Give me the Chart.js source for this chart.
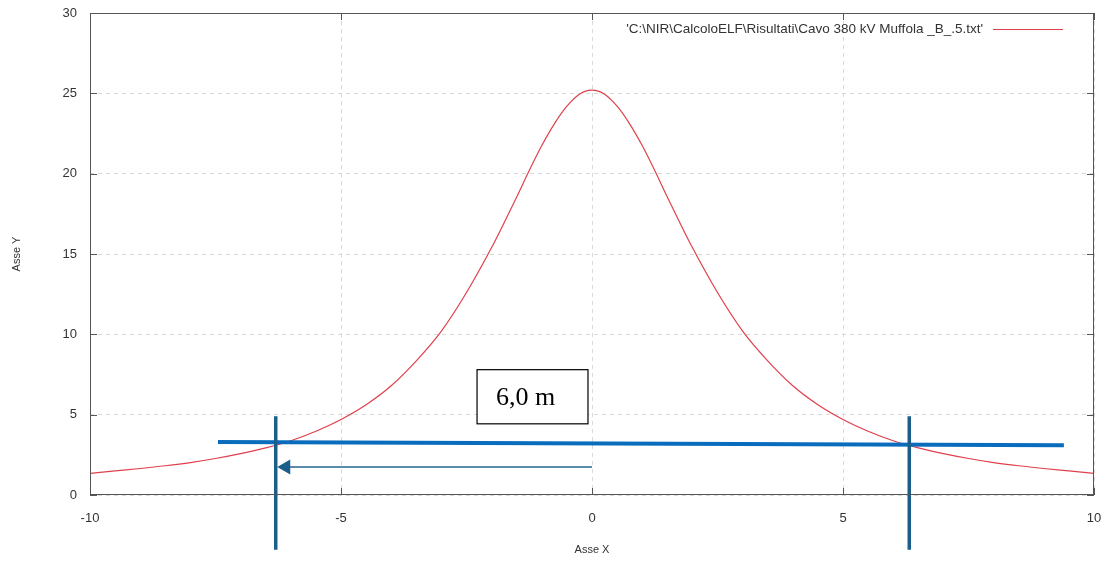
<!DOCTYPE html>
<html>
<head>
<meta charset="utf-8">
<script src="https://cdn.jsdelivr.net/npm/chart.js@4"></script>
<style>
  html, body { margin: 0; padding: 0; background: #fff; }
  #wrap { width: 1107px; height: 565px; }
</style>
</head>
<body>
<div id="wrap"><canvas id="grafico"></canvas></div>
<script>
// valori (campo in funzione della distanza)
const distanze = [-10, -9.5, -9, -8.5, -8, -7.5, -7, -6.5, -6, -5.5, -5, -4.5, -4, -3.5, -3, -2.5, -2, -1.75, -1.5, -1.25, -1, -0.75, -0.5, -0.25,
  0, 0.25, 0.5, 0.75, 1, 1.25, 1.5, 1.75, 2, 2.5, 3, 3.5, 4, 4.5, 5, 5.5, 6, 6.5, 7, 7.5, 8, 8.5, 9, 9.5, 10];
const campo = [1.35, 1.5, 1.65, 1.82, 2.02, 2.27, 2.57, 2.93, 3.38, 3.97, 4.7, 5.62, 6.8, 8.35, 10.2, 12.6, 15.4, 16.95, 18.55, 20.2, 21.75, 23.1, 24.2, 24.95,
  25.2, 24.95, 24.2, 23.1, 21.75, 20.2, 18.55, 16.95, 15.4, 12.6, 10.2, 8.35, 6.8, 5.62, 4.7, 3.97, 3.38, 2.93, 2.57, 2.27, 2.02, 1.82, 1.65, 1.5, 1.35];
const tickX = [-10, -5, 0, 5, 10];
const tickY = [0, 5, 10, 15, 20, 25, 30];
const nomeFile = "'C:\\NIR\\CalcoloELF\\Risultati\\Cavo 380 kV Muffola _B_.5.txt'";

// annotazioni (in coordinate del grafico)
const quotaX = [-7.45, 9.4];
const quotaY = [3.3, 3.1];
const limitiX = [-6.3, 6.32];
const limitiY = [4.9, -3.4];
const frecciaX = [0, -6.27];
const frecciaY = 1.75;
const etichetta = '6,0 m';
const boxX = [-2.29, -0.08];
const boxY = [7.8, 4.43];

const punti = distanze.map((x, i) => ({ x: x, y: campo[i] }));

const annotazioni = {
  id: 'annotazioni',
  afterDatasetsDraw(chart) {
    const ctx = chart.ctx;
    const xs = chart.scales.x, ys = chart.scales.y;
    const a = chart.chartArea;
    ctx.save();
    // cornice e tacche
    ctx.strokeStyle = '#555';
    ctx.lineWidth = 1;
    ctx.strokeRect(a.left + 0.5, a.top + 0.5, a.right - a.left - 1, a.bottom - a.top - 1);
    ctx.beginPath();
    tickY.forEach(v => {
      const py = Math.round(ys.getPixelForValue(v)) + 0.5;
      ctx.moveTo(a.left, py); ctx.lineTo(a.left + 7, py);
      ctx.moveTo(a.right, py); ctx.lineTo(a.right - 7, py);
    });
    tickX.forEach(v => {
      const px = Math.round(xs.getPixelForValue(v)) + 0.5;
      ctx.moveTo(px, a.bottom); ctx.lineTo(px, a.bottom - 7);
      ctx.moveTo(px, a.top); ctx.lineTo(px, a.top + 7);
    });
    ctx.stroke();

    // legenda
    ctx.font = '13.5px "Liberation Sans", Arial, sans-serif';
    ctx.fillStyle = '#333';
    ctx.textAlign = 'right';
    ctx.textBaseline = 'middle';
    ctx.fillText(nomeFile, a.right - 111, a.top + 16);
    ctx.strokeStyle = '#e0404c';
    ctx.beginPath();
    ctx.moveTo(a.right - 101, a.top + 16.5);
    ctx.lineTo(a.right - 31, a.top + 16.5);
    ctx.stroke();

    // freccia
    const fy = ys.getPixelForValue(frecciaY);
    const f0 = xs.getPixelForValue(frecciaX[0]);
    const f1 = xs.getPixelForValue(frecciaX[1]);
    ctx.strokeStyle = '#24648f';
    ctx.lineWidth = 1.5;
    ctx.beginPath();
    ctx.moveTo(f0, fy); ctx.lineTo(f1 + 12, fy);
    ctx.stroke();
    ctx.fillStyle = '#1b5e8a';
    ctx.beginPath();
    ctx.moveTo(f1, fy);
    ctx.lineTo(f1 + 13, fy - 7.5);
    ctx.lineTo(f1 + 13, fy + 7.5);
    ctx.closePath();
    ctx.fill();

    // riquadro con la distanza
    const bx0 = xs.getPixelForValue(boxX[0]), bx1 = xs.getPixelForValue(boxX[1]);
    const by0 = ys.getPixelForValue(boxY[0]), by1 = ys.getPixelForValue(boxY[1]);
    ctx.fillStyle = '#fff';
    ctx.fillRect(bx0, by0, bx1 - bx0, by1 - by0);
    ctx.strokeStyle = '#000';
    ctx.lineWidth = 1.2;
    ctx.strokeRect(bx0, by0, bx1 - bx0, by1 - by0);
    ctx.fillStyle = '#000';
    ctx.font = '26px "Liberation Serif", "Times New Roman", serif';
    ctx.textAlign = 'left';
    ctx.textBaseline = 'alphabetic';
    ctx.fillText(etichetta, bx0 + 19, by0 + 35);
    ctx.restore();
  }
};

new Chart(document.getElementById('grafico'), {
  type: 'line',
  data: {
    datasets: [
      {
        data: punti,
        borderColor: '#e0404c',
        borderWidth: 1.2,
        pointRadius: 0,
        cubicInterpolationMode: 'monotone',
        order: 5
      },
      {
        data: quotaX.map((x, i) => ({ x: x, y: quotaY[i] })),
        borderColor: '#0a6cbc',
        borderWidth: 4,
        pointRadius: 0,
        clip: false,
        order: 2
      },
      {
        data: limitiY.map(y => ({ x: limitiX[0], y: y })),
        borderColor: '#1b5e8a',
        borderWidth: 3.5,
        pointRadius: 0,
        clip: false,
        order: 1
      },
      {
        data: limitiY.map(y => ({ x: limitiX[1], y: y })),
        borderColor: '#1b5e8a',
        borderWidth: 3.5,
        pointRadius: 0,
        clip: false,
        order: 1
      }
    ]
  },
  options: {
    responsive: true,
    maintainAspectRatio: false,
    animation: false,
    layout: { padding: { left: 0, right: 13, top: 13, bottom: 0 } },
    plugins: { legend: { display: false }, tooltip: { enabled: false } },
    scales: {
      x: {
        type: 'linear',
        min: -10,
        max: 10,
        afterBuildTicks: s => { s.ticks = tickX.map(v => ({ value: v })); },
        afterFit: s => { s.height = 70; s.paddingLeft = 0; s.paddingRight = 0; },
        grid: { color: '#d8d8d8', drawTicks: false },
        border: { display: false, dash: [4, 4] },
        ticks: { padding: 16, color: '#333', font: { family: '"Liberation Sans", Arial, sans-serif', size: 13 } },
        title: { display: true, text: 'Asse X', color: '#333', padding: { top: 0, bottom: 8 },
          font: { family: '"Liberation Sans", Arial, sans-serif', size: 11 } }
      },
      y: {
        min: 0,
        max: 30,
        afterBuildTicks: s => { s.ticks = tickY.map(v => ({ value: v })); },
        afterFit: s => { s.width = 90; s.paddingTop = 0; s.paddingBottom = 0; },
        grid: { color: '#d8d8d8', drawTicks: false },
        border: { display: false, dash: [4, 4] },
        ticks: { padding: 13, color: '#333', font: { family: '"Liberation Sans", Arial, sans-serif', size: 13 } },
        title: { display: true, text: 'Asse Y', color: '#333', padding: { top: 10, bottom: 0 },
          font: { family: '"Liberation Sans", Arial, sans-serif', size: 11 } }
      }
    }
  },
  plugins: [annotazioni]
});
</script>
</body>
</html>
